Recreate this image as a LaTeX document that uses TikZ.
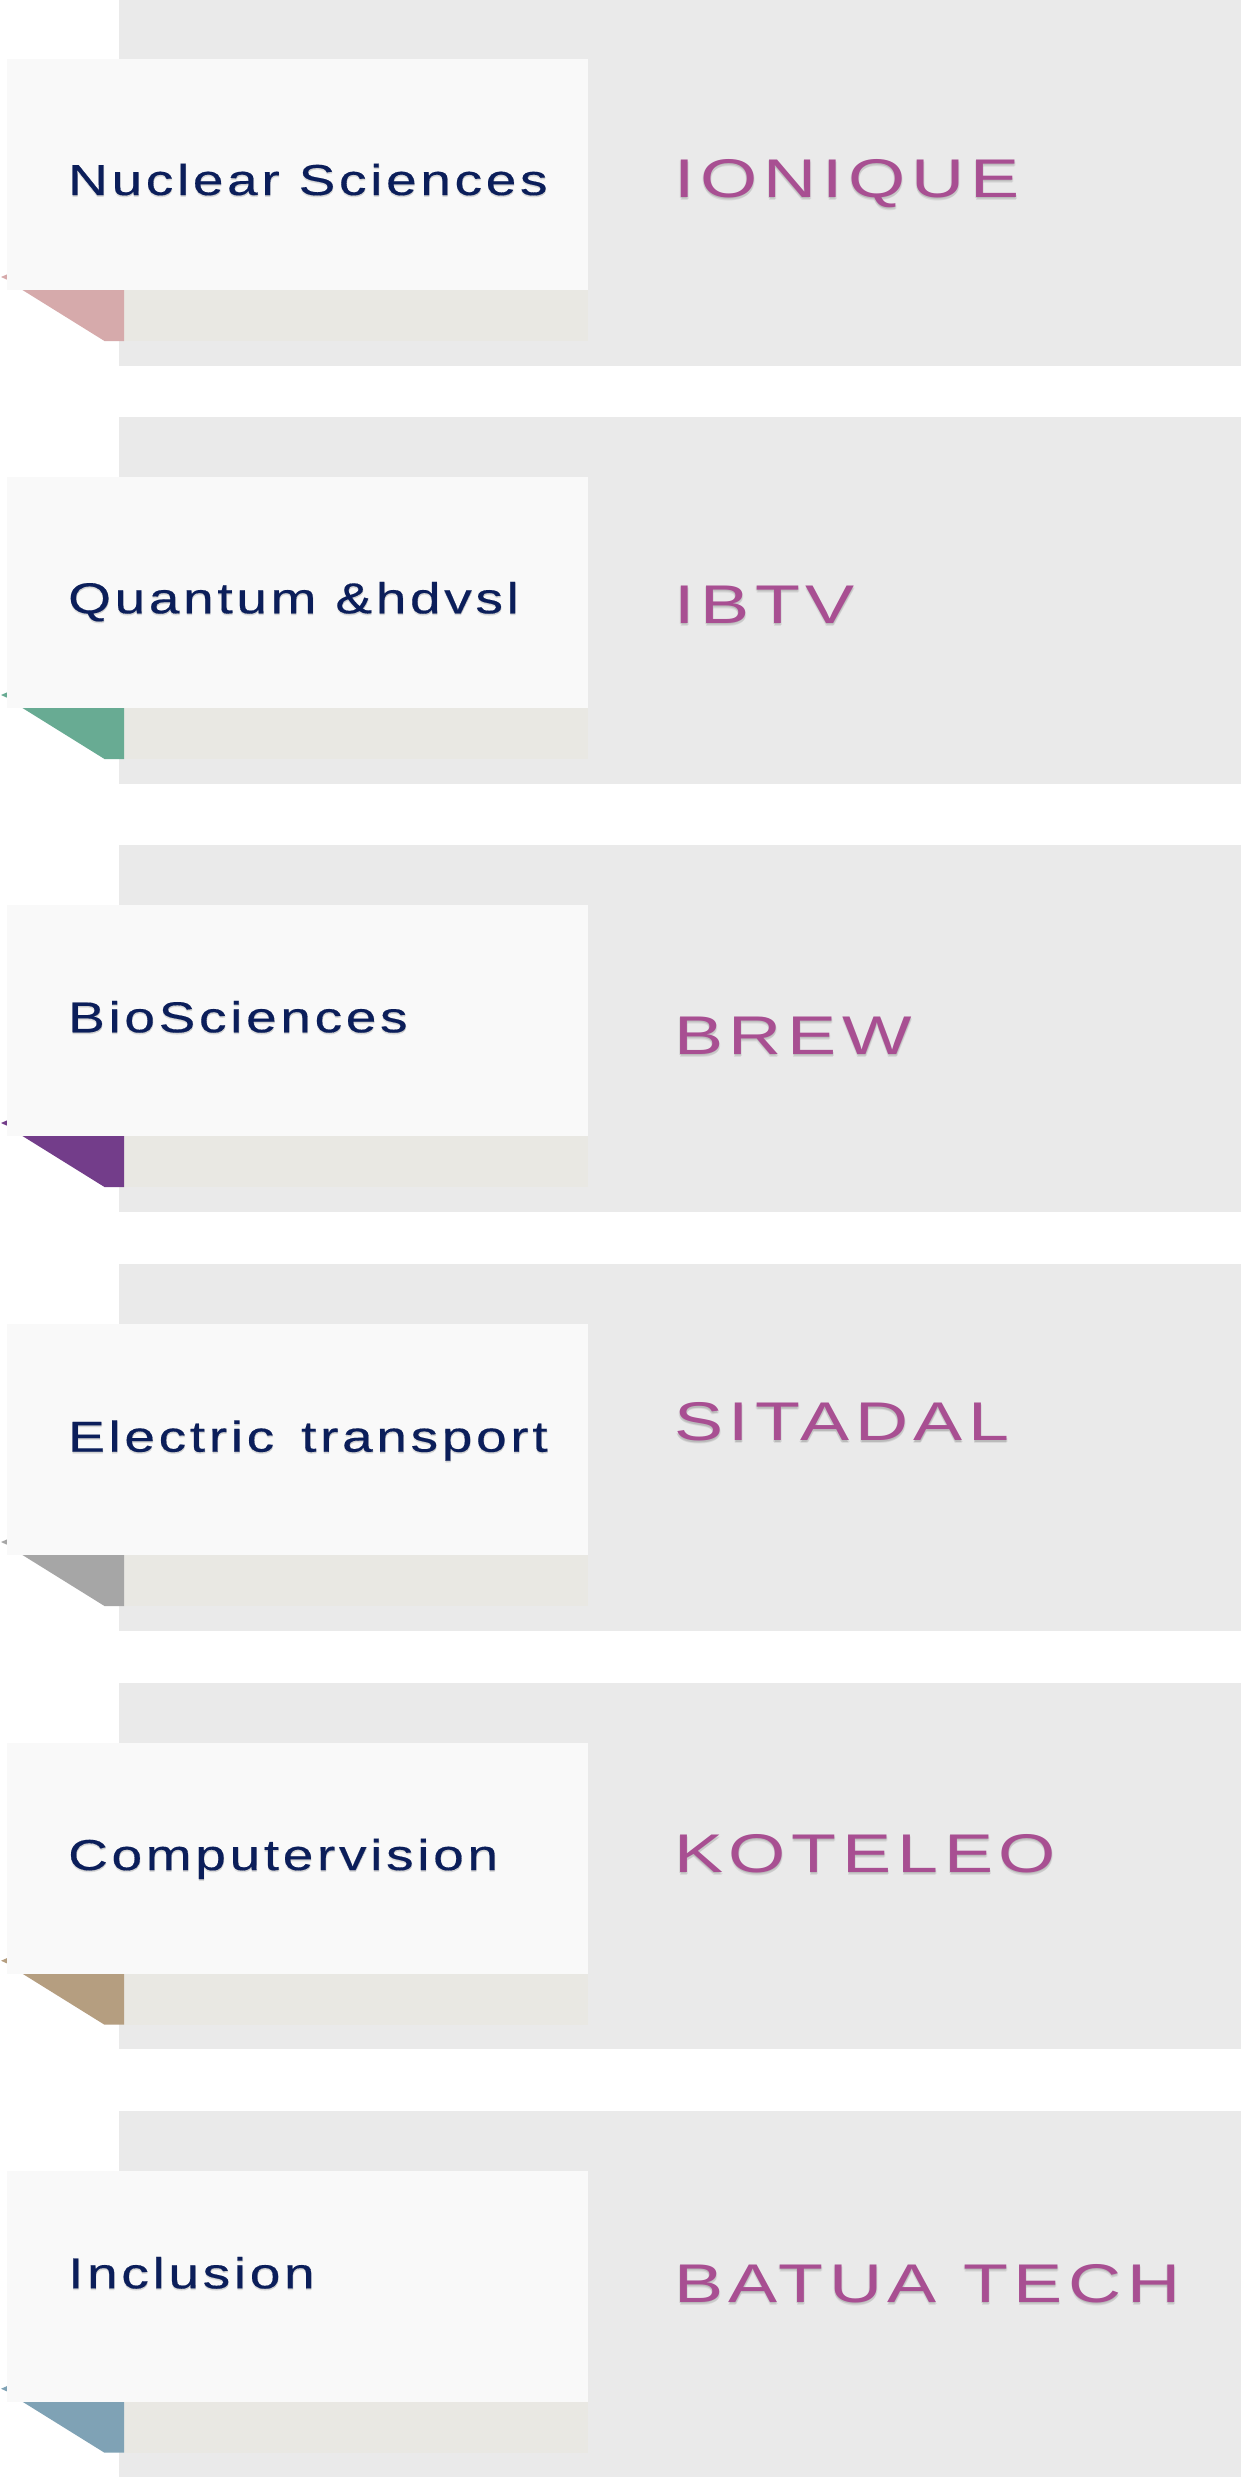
\documentclass[tikz,border=0pt]{standalone}
\usepackage{fontspec}
\newfontfamily\labfont[FakeStretch=1.27,LetterSpace=8.5,FakeBold=0.35]{Liberation Sans}
\newfontfamily\brandfont[FakeStretch=1.35,LetterSpace=10.5]{Liberation Sans}
\definecolor{panelgray}{HTML}{EAEAEA}
\definecolor{cardwhite}{HTML}{F9F9F9}
\definecolor{stripbeige}{HTML}{E9E8E3}
\definecolor{navy}{HTML}{0B1E5A}
\definecolor{brandpink}{HTML}{A84F92}
\definecolor{foldA}{HTML}{D6AAAB}
\definecolor{foldB}{HTML}{68AB93}
\definecolor{foldC}{HTML}{733D8A}
\definecolor{foldD}{HTML}{A6A6A6}
\definecolor{foldE}{HTML}{B59E80}
\definecolor{foldF}{HTML}{7FA2B5}
\tikzset{
  panelbox/.style={fill=panelgray},
  cardbox/.style={fill=cardwhite, draw=none, inner sep=0pt, anchor=north west,
    minimum width=581pt, minimum height=230.7pt},
  stripbox/.style={fill=stripbeige},
  labtext/.style={text=navy, inner sep=0pt, anchor=base west,
    font=\labfont\fontsize{43.3}{52}\selectfont},
  labshadow/.style={labtext, text=black, opacity=0.08},
  brandtext/.style={text=brandpink, inner sep=0pt, anchor=base west,
    font=\brandfont\fontsize{54.5}{64}\selectfont},
  brandshadow/.style={brandtext, text=black, opacity=0.07}
}
% #1 panel top, #2 fold colour, #3 label, #4 label baseline,
% #5 brand, #6 brand baseline, #7 row name
\newcommand\cardrow[7]{%
  \fill[panelbox] (119,#1) rectangle (1241,{#1+366.7});
  \fill[stripbox] (124,{#1+290.7}) rectangle (588,{#1+342});
  \fill[#2] (22,{#1+290.7}) -- (124,{#1+290.7}) -- (124,{#1+342}) -- (104.5,{#1+342}) -- cycle;
  \fill[#2] (7,{#1+275.4}) -- (1,{#1+278}) -- (7,{#1+280.7}) -- cycle;
  \node[cardbox] (card#7) at (7,{#1+60}) {};
  \node[labshadow] (labsha#7) at (68,{#4+1.8}) {#3};
  \node[labshadow] (labshb#7) at (68.6,{#4+1.0}) {#3};
  \node[labtext] (lab#7) at (68,#4) {#3};
  \node[brandshadow] (brandsha#7) at (674,{#6+3.2}) {#5};
  \node[brandshadow] (brandshb#7) at (675,{#6+2.0}) {#5};
  \node[brandshadow] (brandshc#7) at (673.6,{#6+1.4}) {#5};
  \node[brandtext] (brand#7) at (674,#6) {#5};
}
\begin{document}
\begin{tikzpicture}[x=1pt,y=-1pt]
\useasboundingbox (0,0) rectangle (1241,2477);
\fill[white] (0,0) rectangle (1241,2477);
\cardrow{-1}{foldA}{Nuclear Sciences}{195}{IONIQUE}{197.3}{a}
\cardrow{417}{foldB}{Quantum \&hdvsl}{613.3}{IBTV}{623.3}{b}
\cardrow{845}{foldC}{BioSciences}{1032.3}{BREW}{1054}{c}
\cardrow{1264}{foldD}{Electric\hspace{8pt} transport}{1451.7}{SITADAL}{1440.7}{d}
\cardrow{1682.7}{foldE}{Computervision}{1870}{KOTELEO}{1872.5}{e}
\cardrow{2110.7}{foldF}{Inclusion}{2288.3}{BATUA TECH}{2302.3}{f}
\end{tikzpicture}
\end{document}
